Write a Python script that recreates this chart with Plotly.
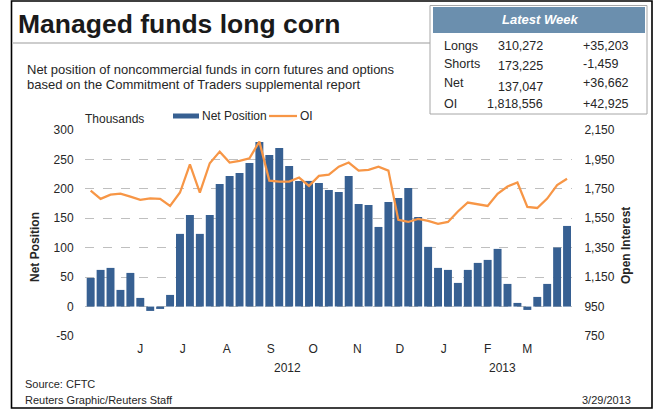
import pandas as pd
import plotly.graph_objects as go

# ---------------- data ----------------
week_start = "2012-04-24"
n_weeks = 49
net_position = [48.7, 62.3, 65.7, 28.3, 57.2, 14.7, -7.4, -4.0, 19.8, 123.5, 155.7, 123.5, 155.7,
                208.4, 222.0, 227.0, 244.0, 279.8, 257.7, 269.6, 239.0, 213.5, 213.5, 210.0, 198.2,
                194.8, 222.0, 174.4, 172.7, 135.3, 177.8, 184.6, 201.6, 152.3, 101.4, 65.7, 62.3, 40.2,
                62.3, 74.2, 79.3, 98.0, 38.5, 6.2, -5.7, 16.4, 38.5, 100.4, 137.0]
open_interest = [1738, 1682, 1711, 1718, 1697, 1675, 1686, 1682, 1634, 1725, 1917, 1725, 1924,
                 2003, 1929, 1940, 1958, 2071, 1806, 1799, 1799, 1827, 1770, 1838, 1847,
                 1901, 1929, 1874, 1879, 1901, 1874, 1539, 1525, 1546, 1532, 1512, 1525, 1596,
                 1657, 1648, 1634, 1716, 1766, 1793, 1627, 1620, 1684, 1776, 1819]
month_starts = ["2012-06-01", "2012-07-01", "2012-08-01", "2012-09-01", "2012-10-01",
                "2012-11-01", "2012-12-01", "2013-01-01", "2013-02-01", "2013-03-01"]
month_labels = ["J", "J", "A", "S", "O", "N", "D", "J", "F", "M"]
year_labels = ["2012", "2013"]
left_ticks = [-50, 0, 50, 100, 150, 200, 250, 300]
left_tick_text = ["-50", "0", "50", "100", "150", "200", "250", "300"]
right_ticks = [750, 950, 1150, 1350, 1550, 1750, 1950, 2150]
right_tick_text = ["750", "950", "1,150", "1,350", "1,550", "1,750", "1,950", "2,150"]
table_rows = ["Longs", "Shorts", "Net", "OI"]
table_values = ["310,272", "173,225", "137,047", "1,818,556"]
table_changes = ["+35,203", "-1,459", "+36,662", "+42,925"]

dates = pd.date_range(week_start, periods=n_weeks, freq="7D")
tick_dates = [pd.Timestamp(m) - pd.Timedelta(days=3) for m in month_starts]

FONT = "Liberation Sans, Arial, sans-serif"
BLUE = "#376092"
ORANGE = "#F79646"
TXT = "#262626"

W, H = 654, 410
L, R, T, B = 85, 572, 130, 336


def px(x):
    return (x - L) / (R - L)


def py(y):
    return (B - y) / (B - T)


fig = go.Figure()
fig.add_trace(go.Bar(x=dates, y=net_position, marker=dict(color=BLUE, line=dict(width=0)),
                     name="Net Position", showlegend=False))
fig.add_trace(go.Scatter(x=dates, y=open_interest, mode="lines", yaxis="y2",
                         line=dict(color=ORANGE, width=2.25), name="OI", showlegend=False))

shapes = []
annotations = []


def text(x, y, s, size=12, anchor="left", bold=False, italic=False, color=TXT):
    if bold:
        s = "<b>" + s + "</b>"
    if italic:
        s = "<i>" + s + "</i>"
    annotations.append(dict(x=px(x), y=py(y), xref="paper", yref="paper", text=s, showarrow=False,
                            xanchor=anchor, yanchor="middle",
                            font=dict(family=FONT, size=size, color=color)))


# outer border
shapes.append(dict(type="rect", xref="paper", yref="paper", x0=px(11.5), x1=px(652), y0=py(1), y1=py(408),
                   line=dict(color="black", width=1.6), fillcolor="rgba(0,0,0,0)", layer="below"))
# title rule
shapes.append(dict(type="line", xref="paper", yref="paper", x0=px(12), x1=px(430), y0=py(43), y1=py(43),
                   line=dict(color="#bdbdbd", width=1.5)))
# table box
shapes.append(dict(type="rect", xref="paper", yref="paper", x0=px(430), x1=px(647), y0=py(5.5), y1=py(114),
                   line=dict(color="#a6a6a6", width=1), fillcolor="white"))
shapes.append(dict(type="rect", xref="paper", yref="paper", x0=px(433), x1=px(645), y0=py(7), y1=py(33),
                   line=dict(width=0), fillcolor="#6b8fae"))
# manual legend
shapes.append(dict(type="rect", xref="paper", yref="paper", x0=px(173), x1=px(199), y0=py(113.5), y1=py(118.5),
                   line=dict(width=0), fillcolor=BLUE))
shapes.append(dict(type="line", xref="paper", yref="paper", x0=px(269), x1=px(297), y0=py(116), y1=py(116),
                   line=dict(color=ORANGE, width=2.25)))

text(16, 24, "Managed funds long corn", size=26.5, bold=True, color="#1a1a1a")
text(25, 70, "Net position of noncommercial funds in corn futures and options", size=13)
text(25, 84, "based on the Commitment of Traders supplemental report", size=13)
text(540, 19.5, "Latest Week", size=13, anchor="center", bold=True, italic=True, color="white")
row_y = [46, 64, 83, 104]
val_y = [46, 66, 87, 104]
for lab, val, ch, ry, vy in zip(table_rows, table_values, table_changes, row_y, val_y):
    text(442, ry, lab, size=12.5)
    text(545, vy, val, size=12.5, anchor="right")
    text(581, ry, ch, size=12.5)

text(83, 119, "Thousands", size=12)
text(200, 116, "Net Position", size=12)
text(298, 116, "OI", size=12)

annotations.append(dict(x=px(35), y=py(247), xref="paper", yref="paper", text="<b>Net Position</b>",
                        showarrow=False, textangle=-90, xanchor="center", yanchor="middle",
                        font=dict(family=FONT, size=12, color=TXT)))
annotations.append(dict(x=px(626), y=py(246), xref="paper", yref="paper", text="<b>Open Interest</b>",
                        showarrow=False, textangle=-90, xanchor="center", yanchor="middle",
                        font=dict(family=FONT, size=12, color=TXT)))

text(287, 368, year_labels[0], size=12, anchor="center")
text(502, 368, year_labels[1], size=12, anchor="center")
text(23, 384, "Source: CFTC", size=11)
text(23, 400, "Reuters Graphic/Reuters Staff", size=11)
text(633, 400, "3/29/2013", size=11, anchor="right")

fig.update_layout(
    width=W, height=H,
    margin=dict(l=L, r=W - R, t=T, b=H - B, pad=0),
    paper_bgcolor="white", plot_bgcolor="white",
    bargap=0.2,
    showlegend=False,
    font=dict(family=FONT, size=12, color=TXT),
    shapes=shapes, annotations=annotations,
    xaxis=dict(type="date", range=[dates[0] - pd.Timedelta(days=4), dates[-1] + pd.Timedelta(days=3.5)],
               tickvals=tick_dates, ticktext=month_labels, showgrid=False, zeroline=False,
               showline=False, ticks="outside", ticklen=2, tickcolor="rgba(0,0,0,0)",
               tickfont=dict(family=FONT, size=12, color=TXT)),
    yaxis=dict(range=[-50, 300], tickvals=left_ticks, ticktext=left_tick_text,
               showgrid=True, gridcolor="#bfbfbf",
               griddash="dash", gridwidth=1, zeroline=False, showline=False,
               ticks="outside", ticklen=8, tickcolor="rgba(0,0,0,0)",
               tickfont=dict(family=FONT, size=12, color=TXT)),
    yaxis2=dict(range=[750, 2150], tickvals=right_ticks, ticktext=right_tick_text,
                overlaying="y", side="right",
                showgrid=False, zeroline=False, showline=False,
                ticks="outside", ticklen=9, tickcolor="rgba(0,0,0,0)",
                tickfont=dict(family=FONT, size=12, color=TXT)),
)

fig.write_html("out.html")
